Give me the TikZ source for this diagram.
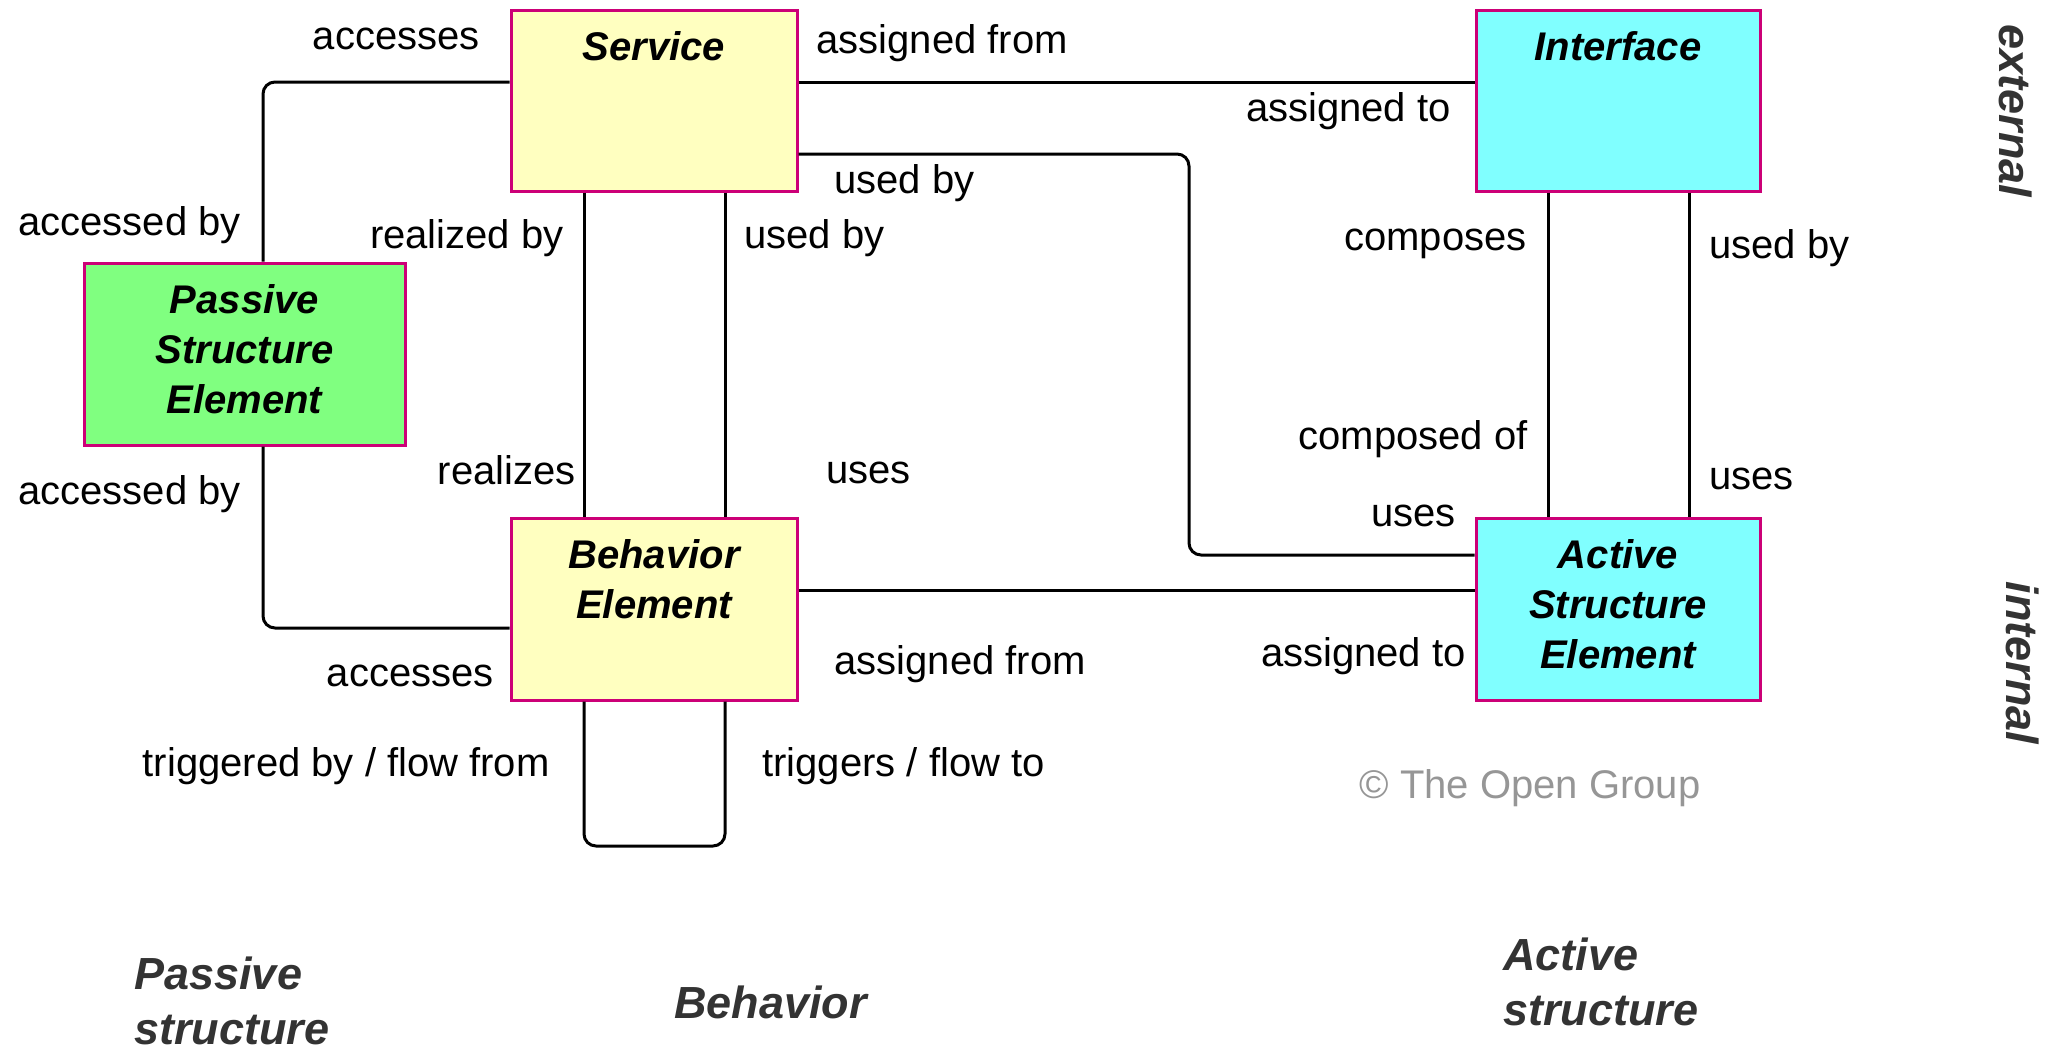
\documentclass[tikz,border=0pt]{standalone}
\usepackage{fontspec}
\setmainfont{Liberation Sans}
\usetikzlibrary{positioning}

\definecolor{elemborder}{RGB}{204,0,119}
\definecolor{behyellow}{RGB}{255,255,192}
\definecolor{passgreen}{RGB}{128,255,128}
\definecolor{actcyan}{RGB}{128,255,255}
\definecolor{layergray}{RGB}{51,51,51}
\definecolor{copygray}{RGB}{150,150,150}

\begin{document}
\begin{tikzpicture}[x=5pt,y=5pt,
    elem/.style={rectangle,draw=elemborder,line width=1.5pt,inner sep=0pt},
    title/.style={font=\fontsize{20}{25}\selectfont\bfseries\itshape,align=center,inner sep=0pt},
    rel/.style={font=\fontsize{20}{24}\selectfont,inner sep=0pt},
    conn/.style={line width=1.5pt,rounded corners=6pt},
    layer/.style={font=\fontsize{22.5}{27.5}\selectfont\bfseries\itshape,text=layergray,inner sep=0pt,align=left}]

  \useasboundingbox (0,0) rectangle (205.3,-105);

  % elements
  \begin{scope}[every node/.style={elem}]
    \node[fill=behyellow,minimum width=143pt,minimum height=90.5pt] (svc) at (65.4,-10.05) {};
    \node[fill=actcyan,minimum width=142pt,minimum height=90.5pt]   (itf) at (161.8,-10.05) {};
    \node[fill=passgreen,minimum width=160.5pt,minimum height=91pt] (pse) at (24.45,-35.4) {};
    \node[fill=behyellow,minimum width=143pt,minimum height=91pt]   (beh) at (65.4,-60.9) {};
    \node[fill=actcyan,minimum width=142pt,minimum height=91pt]     (ase) at (161.8,-60.9) {};
  \end{scope}

  \begin{scope}[every node/.style={title}]
    \node[below=11.3pt of svc.north] (svc-t) {Service};
    \node[below=11.3pt of itf.north] (itf-t) {Interface};
    \node[below=11.3pt of pse.north] (pse-t) {Passive\\Structure\\Element};
    \node[below=11.3pt of beh.north] (beh-t) {Behavior\\Element};
    \node[below=11.3pt of ase.north] (ase-t) {Active\\Structure\\Element};
  \end{scope}

  % tracks of the connectors
  \coordinate (accT) at (26.3,-8.2);
  \coordinate (accB) at (26.3,-62.8);
  \coordinate (useT) at (118.9,-15.4);
  \coordinate (useB) at (118.9,-55.5);
  \coordinate (asgB) at (0,-59.0);
  \coordinate (rlz)  at (58.4,0);
  \coordinate (use)  at (72.5,0);
  \coordinate (cmp)  at (154.8,0);
  \coordinate (iuse) at (168.9,0);
  \coordinate (loop) at (0,-84.6);

  \draw[conn] (svc.west |- accT) -| (pse.north -| accT);
  \draw[conn] (svc.east |- accT) -- (itf.west |- accT);
  \draw[conn] (svc.east |- useT) -- (useT) -- (useB) -- (ase.west |- useB);
  \draw[conn] (svc.south -| rlz) -- (beh.north -| rlz);
  \draw[conn] (svc.south -| use) -- (beh.north -| use);
  \draw[conn] (itf.south -| cmp) -- (ase.north -| cmp);
  \draw[conn] (itf.south -| iuse) -- (ase.north -| iuse);
  \draw[conn] (pse.south -| accB) -- (accB) -- (beh.west |- accB);
  \draw[conn] (beh.east |- asgB) -- (ase.west |- asgB);
  \draw[conn] (beh.south -| rlz) -- (rlz |- loop) -- (use |- loop) -- (beh.south -| use);

  % relation labels
  \begin{scope}[every node/.style={rel}]
    \node[anchor=mid east] (l-acc1)  at (48.0,-4.4)   {accesses};
    \node[anchor=mid west] (l-asf1)  at (81.6,-4.8)   {assigned from};
    \node[anchor=mid east] (l-ast1)  at (145.1,-11.6) {assigned to};
    \node[anchor=mid west] (l-usb1)  at (83.4,-18.8)  {used by};
    \node[anchor=mid west] (l-acb1)  at (1.8,-23.0)   {accessed by};
    \node[anchor=mid east] (l-rlb)   at (56.4,-24.3)  {realized by};
    \node[anchor=mid west] (l-usb2)  at (74.4,-24.3)  {used by};
    \node[anchor=mid east] (l-cmp)   at (152.7,-24.5) {composes};
    \node[anchor=mid west] (l-usb3)  at (170.9,-25.3) {used by};
    \node[anchor=mid east] (l-cmpof) at (152.8,-44.4) {composed of};
    \node[anchor=mid west] (l-use3)  at (170.9,-48.4) {uses};
    \node[anchor=mid east] (l-use1)  at (145.6,-52.1) {uses};
    \node[anchor=mid west] (l-acb2)  at (1.8,-49.9)   {accessed by};
    \node[anchor=mid east] (l-rlz)   at (57.6,-47.9)  {realizes};
    \node[anchor=mid west] (l-use2)  at (82.6,-47.8)  {uses};
    \node[anchor=mid east] (l-acc2)  at (49.4,-68.1)  {accesses};
    \node[anchor=mid west] (l-asf2)  at (83.4,-66.9)  {assigned from};
    \node[anchor=mid east] (l-ast2)  at (146.6,-66.1) {assigned to};
    \node[anchor=mid east] (l-trgb)  at (55.0,-77.1)  {triggered by / flow from};
    \node[anchor=mid west] (l-trg)   at (76.2,-77.1)  {triggers / flow to};
    \node[text=copygray]   (copy)    at (153.0,-78.8) {© The Open Group};
  \end{scope}

  % layers and aspects
  \node[layer,rotate=-90] (ext) at (201.6,-11.1) {external};
  \node[layer,rotate=-90] (int) at (202.3,-66.3) {internal};
  \node[layer,anchor=north west] (pas) at (13.4,-95.6) {Passive\\structure};
  \node[layer,anchor=west] (bhv) at (67.4,-100.2) {Behavior};
  \node[layer,anchor=north west] (act) at (150.3,-93.7) {Active\\structure};

\end{tikzpicture}
\end{document}
